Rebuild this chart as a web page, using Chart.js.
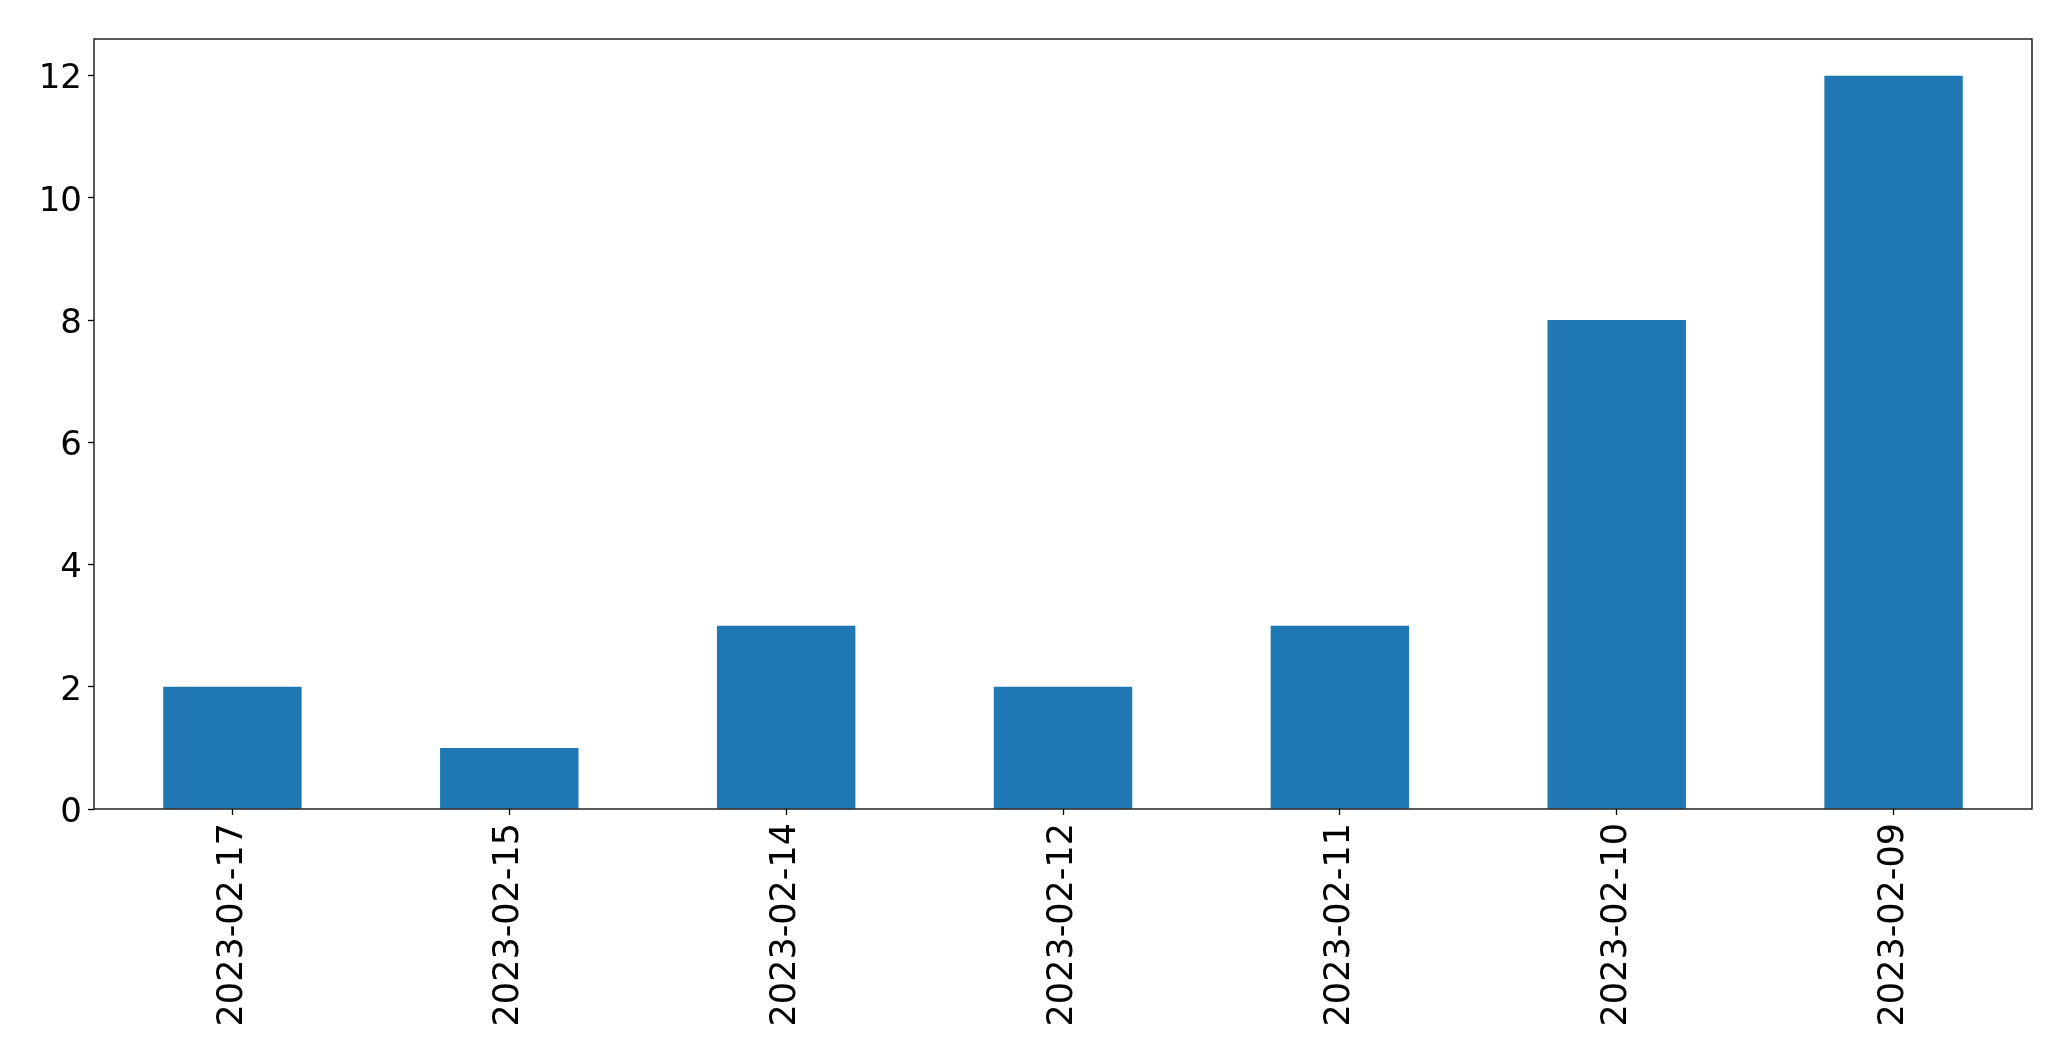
<!DOCTYPE html>
<html>
<head>
<meta charset="utf-8">
<script src="https://cdn.jsdelivr.net/npm/chart.js@4/dist/chart.umd.min.js"></script>
<style>
  html, body { margin: 0; padding: 0; background: #fff; }
  #wrap { width: 2071px; height: 1061px; }
</style>
</head>
<body>
<div id="wrap"><canvas id="bars" width="2071" height="1061"></canvas></div>
<script>
var dates = ['2023-02-17', '2023-02-15', '2023-02-14', '2023-02-12', '2023-02-11', '2023-02-10', '2023-02-09'];
var counts = [2, 1, 3, 2, 3, 8, 12];
var yTicks = [0, 2, 4, 6, 8, 10, 12];

// frame around the plot area, like the matplotlib axes box
var frame = {
    id: 'frame',
    afterDraw: function (chart) {
        var a = chart.chartArea, c = chart.ctx;
        c.save();
        c.strokeStyle = '#000';
        c.lineWidth = 1.3;
        c.strokeRect(a.left, a.top, a.right - a.left, a.bottom - a.top);
        c.restore();
    }
};

var ctx = document.getElementById('bars').getContext('2d');
var chart = new Chart(ctx, {
    type: 'bar',
    data: {
        labels: dates,
        datasets: [{
            data: counts,
            backgroundColor: '#1f77b4',
            borderWidth: 0,
            barPercentage: 0.5,
            categoryPercentage: 1.0
        }]
    },
    options: {
        responsive: false,
        animation: false,
        devicePixelRatio: 1,
        layout: { padding: { left: 0, top: 39, right: 39, bottom: 0 } },
        plugins: { legend: { display: false }, tooltip: { enabled: false } },
        font: { family: 'DejaVu Sans' },
        scales: {
            x: {
                offset: true,
                border: { display: false },
                grid: { offset: false, drawOnChartArea: false, tickLength: 6, color: '#000', tickWidth: 1.3 },
                ticks: {
                    color: '#000',
                    font: { family: 'DejaVu Sans', size: 35 },
                    minRotation: 90,
                    maxRotation: 90,
                    autoSkip: false,
                    padding: 8
                },
                afterFit: function (s) { s.height = 1061 - 809; }
            },
            y: {
                min: 0,
                max: 12.6,
                border: { display: false },
                grid: { drawOnChartArea: false, tickLength: 6, color: '#000', tickWidth: 1.3 },
                ticks: {
                    color: '#000',
                    stepSize: 2,
                    font: { family: 'DejaVu Sans', size: 34 },
                    padding: 6,
                    labelOffset: 4
                },
                afterBuildTicks: function (s) {
                    s.ticks = yTicks.map(function (v) { return { value: v }; });
                },
                afterFit: function (s) { s.width = 94; }
            }
        }
    },
    plugins: [frame]
});
</script>
</body>
</html>
